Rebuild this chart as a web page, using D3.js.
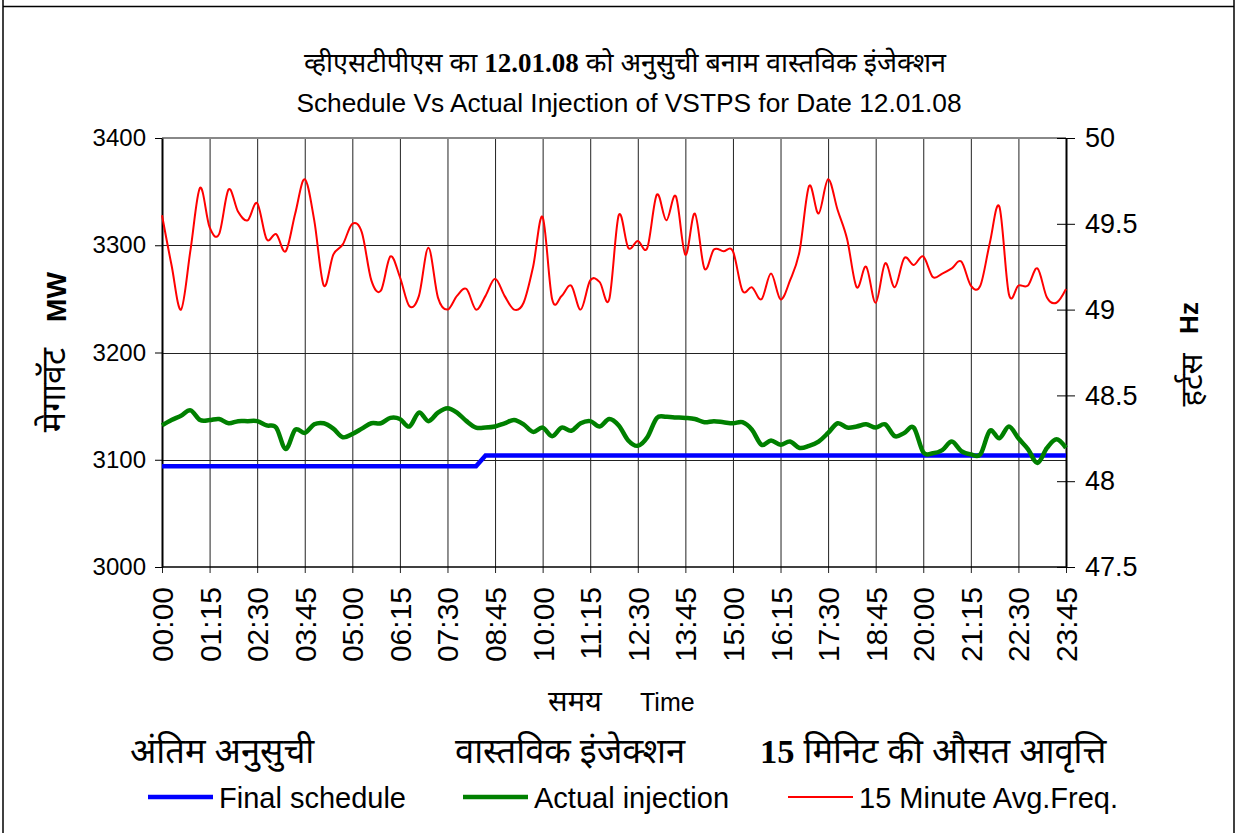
<!DOCTYPE html>
<html><head><meta charset="utf-8">
<script src="https://cdn.jsdelivr.net/npm/d3@7"></script>
<style>
html,body{margin:0;padding:0;background:#fff;}
svg{display:block;}
.deva{font-family:"Noto Sans Devanagari","Lohit Devanagari","Mangal","Noto Serif Devanagari",sans-serif;}
.lat{font-family:"Liberation Sans",Arial,sans-serif;}
</style>
</head><body>
<svg id="c" width="1237" height="833"></svg>
<script>
const times = ["00:00","00:15","00:30","00:45","01:00","01:15","01:30","01:45","02:00","02:15","02:30","02:45",
"03:00","03:15","03:30","03:45","04:00","04:15","04:30","04:45","05:00","05:15","05:30","05:45",
"06:00","06:15","06:30","06:45","07:00","07:15","07:30","07:45","08:00","08:15","08:30","08:45",
"09:00","09:15","09:30","09:45","10:00","10:15","10:30","10:45","11:00","11:15","11:30","11:45",
"12:00","12:15","12:30","12:45","13:00","13:15","13:30","13:45","14:00","14:15","14:30","14:45",
"15:00","15:15","15:30","15:45","16:00","16:15","16:30","16:45","17:00","17:15","17:30","17:45",
"18:00","18:15","18:30","18:45","19:00","19:15","19:30","19:45","20:00","20:15","20:30","20:45",
"21:00","21:15","21:30","21:45","22:00","22:15","22:30","22:45","23:00","23:15","23:30","23:45"];
const tickLabels = ["00:00","01:15","02:30","03:45","05:00","06:15","07:30","08:45","10:00","11:15",
"12:30","13:45","15:00","16:15","17:30","18:45","20:00","21:15","22:30","23:45"];
const schedule = [3094,3094,3094,3094,3094,3094,3094,3094,3094,3094,3094,3094,3094,3094,3094,3094,
3094,3094,3094,3094,3094,3094,3094,3094,3094,3094,3094,3094,3094,3094,3094,3094,3094,3094,
3104,3104,3104,3104,3104,3104,3104,3104,3104,3104,3104,3104,3104,3104,3104,3104,3104,3104,3104,
3104,3104,3104,3104,3104,3104,3104,3104,3104,3104,3104,3104,3104,3104,3104,3104,3104,3104,3104,
3104,3104,3104,3104,3104,3104,3104,3104,3104,3104,3104,3104,3104,3104,3104,3104,3104,3104,3104,
3104,3104,3104,3104,3104];
const actual = [3132,3137,3141,3146,3137,3137,3138,3134,3136,3136,3136,3132,3130,3110,3128,3125,
3133,3134,3129,3121,3124,3129,3134,3134,3139,3138,3131,3144,3136,3144,3148,3144,3136,3130,3130,
3131,3134,3137,3133,3126,3130,3122,3130,3127,3134,3136,3131,3138,3132,3118,3113,3121,3139,3140,
3139.5,3139,3138,3135,3136,3135,3134,3135,3128,3114,3118,3114,3117,3111,3113,3117,3125,3134,3130,
3131,3133,3130,3133,3122,3125,3130,3107,3106,3109,3117,3108,3105,3105,3127,3120,3131,3120,3110,
3097,3111,3119,3111];
const freq = [49.55,49.26,49.00,49.35,49.71,49.48,49.44,49.70,49.57,49.52,49.62,49.41,49.44,49.34,
49.56,49.76,49.52,49.14,49.32,49.38,49.50,49.45,49.17,49.11,49.31,49.19,49.02,49.08,49.36,49.07,
49.00,49.08,49.12,49.00,49.08,49.18,49.08,49.00,49.04,49.25,49.54,49.06,49.08,49.14,49.00,49.17,
49.16,49.06,49.55,49.36,49.40,49.36,49.67,49.52,49.66,49.32,49.56,49.24,49.35,49.34,49.34,49.11,
49.13,49.06,49.21,49.06,49.17,49.34,49.72,49.56,49.76,49.58,49.41,49.13,49.25,49.04,49.27,49.13,
49.30,49.26,49.31,49.19,49.21,49.24,49.28,49.14,49.14,49.39,49.60,49.09,49.14,49.14,49.24,49.07,
49.04,49.12];
const leftTicks = [3000,3100,3200,3300,3400];
const rightTicks = [47.5,48,48.5,49,49.5,50];

const svg = d3.select("#c");
const L=162,R=1066,T=138,B=567;

// outer frame
svg.append("line").attr("x1",3).attr("x2",1234).attr("y1",6.5).attr("y2",6.5).attr("stroke","#000").attr("stroke-width",1.5);
svg.append("line").attr("x1",3).attr("x2",3).attr("y1",0).attr("y2",833).attr("stroke","#000").attr("stroke-width",1.5);
svg.append("line").attr("x1",1234).attr("x2",1234).attr("y1",0).attr("y2",833).attr("stroke","#000").attr("stroke-width",1.5);

const x = d3.scalePoint().domain(times).range([L,R]);
const yL = d3.scaleLinear().domain([3000,3400]).range([B,T]);
const yR = d3.scaleLinear().domain([47.5,50]).range([B,T]);

// gridlines
svg.append("g").selectAll("line").data(tickLabels).join("line")
  .attr("x1",d=>x(d)+0.5).attr("x2",d=>x(d)+0.5).attr("y1",T).attr("y2",B+6)
  .attr("stroke","#222").attr("stroke-width",1);
svg.append("g").selectAll("line").data(leftTicks.slice(1,4)).join("line")
  .attr("x1",L).attr("x2",R).attr("y1",d=>Math.round(yL(d))+0.5).attr("y2",d=>Math.round(yL(d))+0.5)
  .attr("stroke","#222").attr("stroke-width",1);
svg.append("line").attr("x1",L).attr("x2",R).attr("y1",T).attr("y2",T).attr("stroke","#888").attr("stroke-width",2);
svg.append("line").attr("x1",L).attr("x2",R).attr("y1",B).attr("y2",B).attr("stroke","#000").attr("stroke-width",1.5);

// left axis
const gl = svg.append("g").attr("transform",`translate(${L},0)`)
  .call(d3.axisLeft(yL).tickValues(leftTicks).tickFormat(d3.format("d")).tickSize(7).tickSizeOuter(0).tickPadding(9));
gl.select(".domain").attr("stroke-width",2);
gl.selectAll("text").attr("class","lat").style("font-size","24px").attr("fill","#000");
// right axis
const gr = svg.append("g").attr("transform",`translate(${R},0)`)
  .call(d3.axisRight(yR).tickValues(rightTicks).tickFormat(d=>String(d)).tickSize(9).tickSizeOuter(0).tickPadding(10));
gr.select(".domain").attr("stroke-width",2);
gr.selectAll(".tick line").attr("x1",-9);
gr.selectAll("text").attr("class","lat").style("font-size","27px").attr("fill","#000");

// x labels
svg.append("g").selectAll("text").data(tickLabels).join("text")
  .attr("class","lat").style("font-size","30px")
  .attr("transform",d=>`translate(${x(d)+11},${B+20}) rotate(-90)`)
  .attr("text-anchor","end").text(d=>d);

// lines
const lineL = d3.line().x((d,i)=>x(times[i])).y(d=>yL(d));
svg.append("path").datum(schedule).attr("d",lineL).attr("fill","none").attr("stroke","#0000ff").attr("stroke-width",4.5);
svg.append("path").datum(actual).attr("d",lineL.curve(d3.curveCardinal.tension(0))).attr("fill","none").attr("stroke","#008000").attr("stroke-width",4.5).attr("stroke-linejoin","round");
const lineR = d3.line().x((d,i)=>x(times[i])).y(d=>yR(d)).curve(d3.curveCardinal.tension(0));
svg.append("path").datum(freq).attr("d",lineR).attr("fill","none").attr("stroke","#ff0000").attr("stroke-width",2);

// titles
const t1 = svg.append("text").attr("x",625).attr("y",72).attr("text-anchor","middle").attr("class","deva").style("font-size","27px");
t1.append("tspan").text("व्हीएसटीपीएस का ");
t1.append("tspan").style("font-family","'Liberation Serif',serif").style("font-weight","bold").text("12.01.08");
t1.append("tspan").text(" को अनुसुची बनाम वास्तविक इंजेक्शन");
svg.append("text").attr("x",629).attr("y",112).attr("text-anchor","middle").attr("class","lat").style("font-size","26.3px")
  .text("Schedule Vs Actual Injection of VSTPS for Date 12.01.08");

// axis titles
svg.append("text").attr("transform","translate(65,390) rotate(-90)").attr("text-anchor","middle").attr("class","deva").style("font-size","34px").text("मेगावॅट");
svg.append("text").attr("transform","translate(66,297) rotate(-90)").attr("text-anchor","middle").attr("class","lat").style("font-size","28px").style("font-weight","bold").text("MW");
svg.append("text").attr("transform","translate(1202,380) rotate(-90)").attr("text-anchor","middle").attr("class","deva").style("font-size","31px").text("हर्टस");
svg.append("text").attr("transform","translate(1198,318) rotate(-90)").attr("text-anchor","middle").attr("class","lat").style("font-size","26px").style("font-weight","bold").text("Hz");
svg.append("text").attr("x",575).attr("y",711).attr("text-anchor","middle").attr("class","deva").style("font-size","29px").text("समय");
svg.append("text").attr("x",640).attr("y",711).attr("class","lat").style("font-size","25px").text("Time");

// legend
const legH = [{t:"अंतिम अनुसुची",x:130},{t:"वास्तविक इंजेक्शन",x:455},{t:" मिनिट की औसत आवृत्ति",x:760,num:"15"}];
legH.forEach(d=>{
  const t = svg.append("text").attr("x",d.x).attr("y",763).attr("class","deva").style("font-size","34.5px");
  if(d.num) t.append("tspan").style("font-family","'Liberation Serif',serif").style("font-weight","bold").text(d.num);
  t.append("tspan").text(d.t);
});
const legE = [{t:"Final schedule",x:148,c:"#0000ff",w:4.5},{t:"Actual injection",x:463,c:"#008000",w:4.5},{t:"15 Minute Avg.Freq.",x:788,c:"#ff0000",w:2}];
legE.forEach(d=>{
  svg.append("line").attr("x1",d.x).attr("x2",d.x+65).attr("y1",797).attr("y2",797).attr("stroke",d.c).attr("stroke-width",d.w);
  svg.append("text").attr("x",d.x+71).attr("y",808).attr("class","lat").style("font-size","29px").text(d.t);
});
</script>
</body></html>
